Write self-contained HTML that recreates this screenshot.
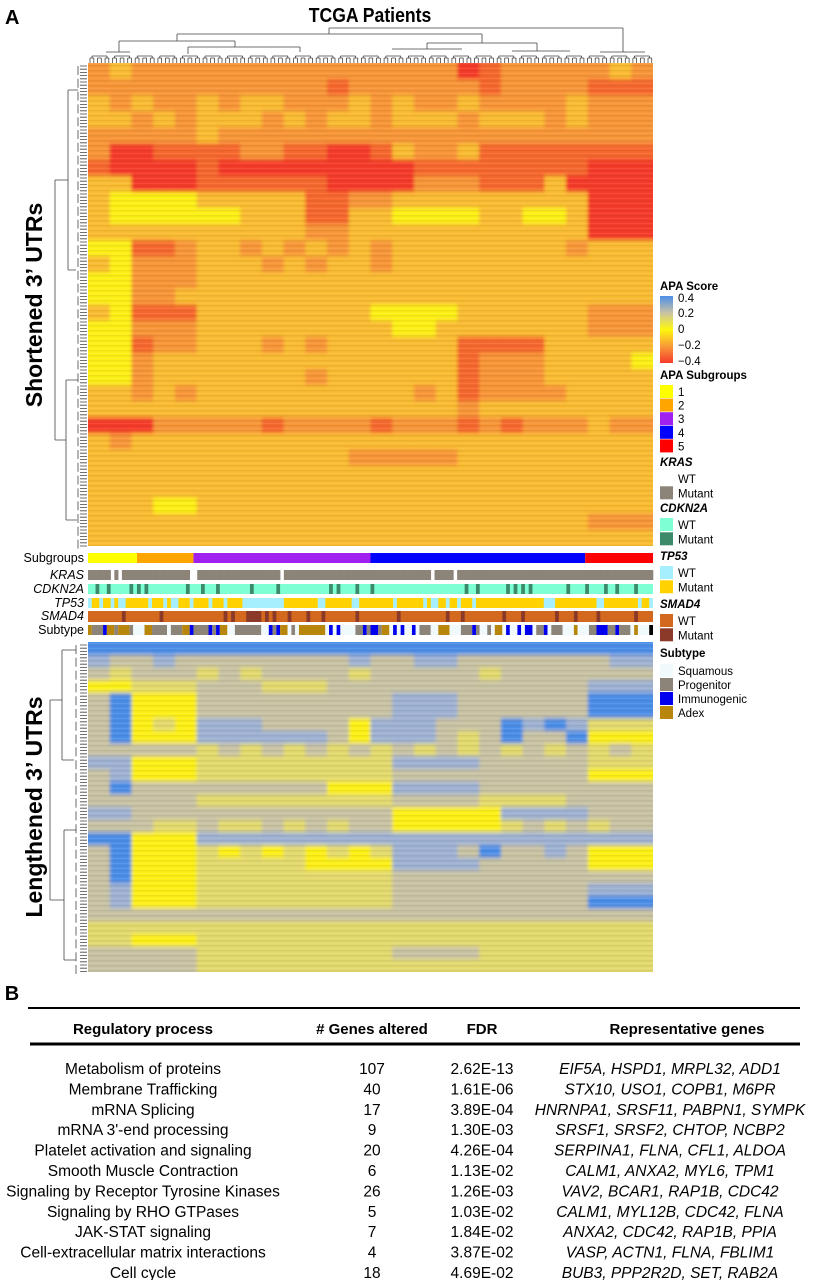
<!DOCTYPE html>
<html><head><meta charset="utf-8"><style>
html,body{margin:0;padding:0;background:#fff}
svg{display:block;font-family:"Liberation Sans",Arial,sans-serif}
</style></head><body>
<svg id="fig" width="829" height="1280" viewBox="0 0 829 1280" xmlns="http://www.w3.org/2000/svg">
<defs><linearGradient id="cbar" x1="0" y1="0" x2="0" y2="1">
<stop offset="0" stop-color="#4c8ee8"/><stop offset="0.25" stop-color="#c9c3a4"/><stop offset="0.5" stop-color="#fdf80e"/><stop offset="0.75" stop-color="#f89a38"/><stop offset="1" stop-color="#f53b2c"/></linearGradient>
<filter id="soft" x="0" y="0" width="1" height="1"><feGaussianBlur stdDeviation="1.6 2.2"/></filter>
<clipPath id="clipTop"><rect x="88" y="63" width="565" height="483"/></clipPath>
<clipPath id="clipBot"><rect x="88" y="642" width="565" height="330"/></clipPath>
<pattern id="stripes" width="8" height="5" patternUnits="userSpaceOnUse"><rect x="0" y="0" width="8" height="1.4" fill="#000" opacity="0.06"/><rect x="0" y="3" width="8" height="1" fill="#fff" opacity="0.08"/></pattern>
</defs>
<text x="5" y="24" font-size="20" font-weight="bold">A</text>
<text x="370" y="22" font-size="20" font-weight="bold" text-anchor="middle" transform="translate(370 0) scale(0.88 1) translate(-370 0)">TCGA Patients</text>
<text font-size="23" font-weight="bold" text-anchor="middle" transform="translate(42 305) rotate(-90)">Shortened 3’ UTRs</text>
<text font-size="23" font-weight="bold" text-anchor="middle" transform="translate(42 807) rotate(-90)">Lengthened 3’ UTRs</text>
<g id="top-dendro" stroke="#444" stroke-width="0.8" fill="none"></g>
<g id="left-dendro" stroke="#444" stroke-width="0.8" fill="none"></g>
<g clip-path="url(#clipTop)"><g id="hm-top" filter="url(#soft)"></g></g>
<rect x="88" y="63" width="565" height="483" fill="url(#stripes)"/>
<g clip-path="url(#clipBot)"><g id="hm-bot" filter="url(#soft)"></g></g>
<rect x="88" y="642" width="565" height="330" fill="url(#stripes)"/>
<g id="tracks"></g>
<g font-size="12.5" text-anchor="end">
<text x="84" y="562">Subgroups</text>
<text x="84" y="579" font-style="italic">KRAS</text>
<text x="84" y="593" font-style="italic">CDKN2A</text>
<text x="84" y="607" font-style="italic">TP53</text>
<text x="84" y="620" font-style="italic">SMAD4</text>
<text x="84" y="634">Subtype</text>
</g>
<g id="legend" font-size="11.5">
<text x="660" y="290" font-weight="bold">APA Score</text>
<rect x="660" y="296" width="13" height="67" fill="url(#cbar)"/>
<text x="678" y="302">0.4</text>
<text x="678" y="317">0.2</text>
<text x="678" y="333">0</text>
<text x="678" y="349">−0.2</text>
<text x="678" y="365">−0.4</text>
</g>
<g id="table"></g>
</svg>
<script>
// ---- data ----
const topRows = [
"23222222222222222012222232","22222222222122222212222111","32322323322232322322223222",
"33232333232332333233323222","22222322222222222222222222","20011112211001322311111111",
"10000100000000011111111000","33000111111000022211130000","34444333331122333333333000",
"34444443331133444433443000","33333333332233333333333000","44112332323232333333332333",
"34222333232332333333333333","44222333333333333333333333","44223333333333333333333333",
"34111333333334444333333222","44222333333333443333333222","44122333232333333111133333",
"44233333333333333122233334","44233333332333333122233333","33232333333333323122223333",
"33333333333333333233333333","00022222122221222121222322","32333333333333333333333333",
"33333333333322222333333333","33333333333333333333333333","33333333333333333333333333",
"33344333333333333333333333","33333333333333333333333222","33333333333333333333333333"];
const botRows = [
"88888888888888888888888888","76676666666676677666666677","65666565666656666656666666",
"44555666555666666666666777","68444666666666777666666888","68444666666666777666666888",
"68454777666647776668787555","68444777777647776568668444","66666565656565656565656565",
"77444555555555777766666555","67444555555555666666666444","68666666666444777766666666",
"66666555555555666655556666","77666666666666444447777666","66655655656566444445656566",
"88444777777777777777777777","68444545454545777686676444","68444555554444777766666444",
"68444555555555666666666666","67444555555555666666666777","67444555555555666666666888",
"66666666666666666666666666","55555555555555555555555555","55444555555555555555555555",
"66666555555555666655555555","66666555555555555555555555"];
const nPatients = 150;
const subgroupSizes = [13, 15, 47, 57, 18];
const subgroupNames = ["1","2","3","4","5"];
const krasWT = [6, 8, 27, 28, 51, 91, 97];
const cdkn2aMutant = [2,5,11,13,15,26,30,34,43,50,64,66,71,75,100,103,111,113,115,117,127,132,137,140,145];
const tp53Mutant = [[1,3],[4,6],[7,8],[10,16],[17,20],[21,22],[24,27],[28,32],[33,36],[37,41],[52,61],[63,70],[72,81],[82,89],[90,91],[93,95],[96,98],[99,102],[103,121],[124,135],[137,146],[147,149]];
const smad4Mutant = [[9,10],[19,20],[36,37],[38,39],[42,46],[47,48],[49,50],[53,54],[58,59],[62,63],[71,72],[82,83],[95,96],[99,100],[110,111],[115,116],[124,125],[129,130],[135,136],[145,146]];
const subtypeStarts = [0,1,4,5,7,8,11,12,15,17,21,22,25,27,28,32,33,34,35,37,39,46,48,49,50,51,53,54,55,56,63,64,65,66,67,71,73,74,75,77,78,80,81,82,83,84,86,87,88,91,93,96,99,102,103,104,106,107,108,110,111,112,114,115,116,118,119,121,122,123,126,129,130,133,135,138,140,141,144,145,146,149];
const subtypeCodes = "APIAPAPSAPSPAIPIPIASPSIPIASPSASISISPIPIPASISISISPSASPIPSPSASISISISPISPSASPIPIPSAS";
const processes = ["Metabolism of proteins","Membrane Trafficking","mRNA  Splicing","mRNA  3'-end processing","Platelet activation and signaling","Smooth Muscle Contraction","Signaling by Receptor Tyrosine Kinases","Signaling by RHO  GTPases","JAK-STAT  signaling","Cell-extracellular matrix interactions","Cell cycle"];
const genesAltered = [107,40,17,9,20,6,26,5,7,4,18];
const fdrValues = ["2.62E-13","1.61E-06","3.89E-04","1.30E-03","4.26E-04","1.13E-02","1.26E-03","1.03E-02","1.84E-02","3.87E-02","4.69E-02"];
const repGenes = ["EIF5A, HSPD1, MRPL32, ADD1","STX10, USO1, COPB1, M6PR","HNRNPA1, SRSF11, PABPN1, SYMPK","SRSF1, SRSF2, CHTOP, NCBP2","SERPINA1, FLNA, CFL1, ALDOA","CALM1, ANXA2, MYL6, TPM1","VAV2, BCAR1, RAP1B, CDC42","CALM1, MYL12B, CDC42, FLNA","ANXA2, CDC42, RAP1B, PPIA","VASP, ACTN1, FLNA, FBLIM1","BUB3, PPP2R2D, SET, RAB2A"];

// ---- helpers ----
const NS = "http://www.w3.org/2000/svg";
function mk(tag, attrs, parent){const e=document.createElementNS(NS,tag);for(const k in attrs)e.setAttribute(k,attrs[k]);parent.appendChild(e);return e;}
const hmX0 = 88, hmX1 = 653;
const stops = [[-0.4,[245,59,44]],[-0.3,[246,104,46]],[-0.2,[248,150,56]],[-0.1,[250,188,48]],[0,[253,240,20]],[0.1,[227,218,110]],[0.2,[201,195,164]],[0.3,[159,178,211]],[0.4,[76,142,232]]];
function scoreColor(v){
  for(let i=0;i<stops.length-1;i++){const a=stops[i],b=stops[i+1];
    if(v<=b[0]+1e-9){const t=(v-a[0])/(b[0]-a[0]);const c=a[1].map((x,j)=>Math.round(x+(b[1][j]-x)*Math.max(0,Math.min(1,t))));return `rgb(${c})`;}}
  return `rgb(${stops[stops.length-1][1]})`;
}
const pX = i => hmX0 + (hmX1-hmX0)*i/nPatients;

function drawHeatmap(g, rows, y0, y1){
  const nr=rows.length, nc=rows[0].length, cw=(hmX1-hmX0)/nc, rh=(y1-y0)/nr;
  rows.forEach((row,r)=>{
    for(let c=0;c<nc;c++){
      const v=(parseInt(row[c])-4)*0.1;
      let x=hmX0+c*cw, w=cw+0.4, y=y0+r*rh, h=rh+0.4;
      if(c===0){x-=4;w+=4;} if(c===nc-1){w+=4;}
      if(r===0){y-=4;h+=4;} if(r===nr-1){h+=4;}
      const el=mk("rect",{x:x.toFixed(2),y:y.toFixed(2),width:w.toFixed(2),height:h.toFixed(2),fill:scoreColor(v)},g);
      
      
    }
  });
}
drawHeatmap(document.getElementById("hm-top"), topRows, 63, 546);
drawHeatmap(document.getElementById("hm-bot"), botRows, 642, 972);

// tracks
const tr = document.getElementById("tracks");
const subColors=["#ffff00","#ffa500","#a020f0","#0000ff","#ff0000"];
let acc=0;
subgroupSizes.forEach((s,i)=>{
  const el=mk("rect",{x:pX(acc),y:553,width:pX(acc+s)-pX(acc),height:10,fill:subColors[i]},tr);
  
  
  acc+=s;
});
for(let i=0;i<nPatients;i++){
  if(krasWT.indexOf(i)>=0) continue;
  const el=mk("rect",{x:pX(i),y:570,width:pX(i+1)-pX(i)+0.3,height:10,fill:"#8c8379"},tr);
  
  
}
let el=mk("rect",{x:hmX0,y:584,width:hmX1-hmX0,height:10,fill:"#7fffd4"},tr);


cdkn2aMutant.forEach(i=>{
  const e=mk("rect",{x:pX(i),y:584,width:pX(i+1)-pX(i),height:10,fill:"#3d8a6b"},tr);
  
  
});
el=mk("rect",{x:hmX0,y:598,width:hmX1-hmX0,height:10,fill:"#a6efff"},tr);


tp53Mutant.forEach(([a,b])=>{
  const e=mk("rect",{x:pX(a),y:598,width:pX(b)-pX(a),height:10,fill:"#ffd200"},tr);
  
  
});
el=mk("rect",{x:hmX0,y:611,width:hmX1-hmX0,height:11,fill:"#d2691e"},tr);


smad4Mutant.forEach(([a,b])=>{
  const e=mk("rect",{x:pX(a),y:611,width:pX(b)-pX(a),height:11,fill:"#8b3a2a"},tr);
  
  
});
const stColor={S:"#f0fafd",P:"#8c8379",I:"#0000ee",A:"#b8860b"};
subtypeStarts.forEach((s,k)=>{
  const e=subtypeStarts[k+1]!==undefined?subtypeStarts[k+1]:nPatients;
  const r=mk("rect",{x:pX(s),y:625,width:pX(e)-pX(s),height:10,fill:stColor[subtypeCodes[k]]},tr);
  
  
});

// dendrograms (decorative)
const td=document.getElementById("top-dendro");
let d="M329 28H623 M329 28V34 M623 28V52 M177 34H482 M177 34V41 M482 34V43 M119 41H235 M119 41V52 M235 41V47 M427 43H537 M427 43V49 M537 43V51 M106 52H130 M188 47H300 M188 47V54 M300 47V52 M392 49H462 M512 51H570 M600 52H645";
for(let x=hmX0+2;x<hmX1;x+=3.77){d+=` M${x.toFixed(1)} 63V58`;}
for(let x=hmX0+2;x<hmX1-4;x+=7.54){d+=` M${x.toFixed(1)} 58H${(x+3.77).toFixed(1)}`;}
for(let x=hmX0+4;x<hmX1-10;x+=22.6){d+=` M${x.toFixed(1)} 56H${(x+15).toFixed(1)} M${x.toFixed(1)} 56V58 M${(x+15).toFixed(1)} 56V58`;}
mk("path",{d:d},td);
const ld=document.getElementById("left-dendro");
let d2="M55 180V440 M55 180H68 M55 440H66 M68 90V270 M66 380V520 M68 90H78 M68 270H76 M66 380H78 M66 520H77";
d2+=" M50 700V900 M50 700H62 M50 900H64 M62 650V760 M64 830V960 M62 650H76 M62 760H74 M64 830H76 M64 960H76";
for(let y=66;y<546;y+=3.2){d2+=` M80 ${y.toFixed(1)}H87`;}
for(let y=645;y<972;y+=3.2){d2+=` M80 ${y.toFixed(1)}H87`;}
for(let y=66;y<540;y+=12.8){d2+=` M78 ${y.toFixed(1)}V${(y+9).toFixed(1)}`;}
for(let y=645;y<965;y+=12.8){d2+=` M76 ${y.toFixed(1)}V${(y+9).toFixed(1)}`;}
mk("path",{d:d2},ld);

// legend
const lg=document.getElementById("legend");
function sq(x,y,c,name){const r=mk("rect",{x:x,y:y,width:13,height:13,fill:c},lg);return r;}
function tx(x,y,s,name,extra){const t=mk("text",Object.assign({x:x,y:y},extra||{}),lg);t.textContent=s;return t;}
tx(660,379,"APA Subgroups","apa-subgroups-legend-title",{"font-weight":"bold"});
subColors.forEach((c,i)=>{sq(660,385+i*13.6,c,'subgroup-legend-swatch');tx(678,396+i*13.6,subgroupNames[i],'subgroup-legend-label');});
const groups=[
 ["KRAS",466,[["WT","#ffffff"],["Mutant","#8c8379"]]],
 ["CDKN2A",512,[["WT","#7fffd4"],["Mutant","#3d8a6b"]]],
 ["TP53",560,[["WT","#a6efff"],["Mutant","#ffd200"]]],
 ["SMAD4",608,[["WT","#d2691e"],["Mutant","#8b3a2a"]]]];
groups.forEach(([g,y,items])=>{
  tx(660,y,g,g.toLowerCase()+'-legend-title',{"font-weight":"bold","font-style":"italic"});
  items.forEach(([lab,c],i)=>{sq(660,y+6+i*14.3,c,g.toLowerCase()+'-legend-swatch');tx(678,y+17+i*14.3,lab,g.toLowerCase()+'-legend-label');});
});
tx(660,657,"Subtype","subtype-legend-title",{"font-weight":"bold"});
[["Squamous","#f0fafd"],["Progenitor","#8c8379"],["Immunogenic","#0000ee"],["Adex","#b8860b"]].forEach(([lab,c],i)=>{sq(660,664+i*14,c,'subtype-legend-swatch');tx(678,675+i*14,lab,'subtype-legend-label');});

// table
const tb=document.getElementById("table");
function t2(x,y,s,name,extra){const t=mk("text",Object.assign({x:x,y:y,"text-anchor":"middle","font-size":"15"},extra||{}),tb);t.textContent=s;return t;}
t2(12,1000,"B","panel-b-label",{"font-size":"20","font-weight":"bold"});
let ln=mk("line",{x1:28,y1:1008,x2:800,y2:1008,stroke:"#000","stroke-width":2},tb);

ln=mk("line",{x1:30,y1:1044,x2:800,y2:1044,stroke:"#000","stroke-width":3},tb);

t2(143,1034,"Regulatory process","header-regulatory-process",{"font-weight":"bold"});
t2(372,1034,"# Genes altered","header-genes-altered",{"font-weight":"bold"});
t2(482,1034,"FDR","header-fdr",{"font-weight":"bold"});
t2(687,1034,"Representative genes","header-representative-genes",{"font-weight":"bold"});
processes.forEach((p,i)=>{
  const y=1074+i*20.4;
  t2(143,y,p,'process-name',{"font-size":"15.5"});
  t2(372,y,String(genesAltered[i]),'genes-altered-value',{"font-size":"15.5"});
  t2(482,y,fdrValues[i],'fdr-value',{"font-size":"15.5"});
  t2(670,y,repGenes[i],'representative-genes',{"font-size":"15.5","font-style":"italic"});
});
</script>
</body></html>
